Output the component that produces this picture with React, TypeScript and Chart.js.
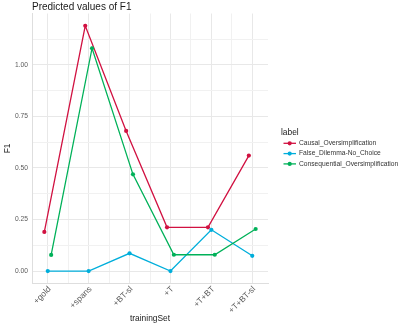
import React, { useEffect, useRef } from "react";
import { Chart, registerables } from "chart.js";

Chart.register(...registerables);

// ---- data ----
const categories = ["+gold", "+spans", "+BT-sl", "+T", "+T+BT", "+T+BT-sl"];
const seriesNames = [
  "Causal_Oversimplification",
  "False_Dilemma-No_Choice",
  "Consequential_Oversimplification",
];
const causalValues = [0.19, 1.19, 0.68, 0.212, 0.212, 0.56];
const falseDilemmaValues = [0.0, 0.0, 0.086, 0.0, 0.2, 0.074];
const consequentialValues = [0.078, 1.081, 0.469, 0.079, 0.079, 0.204];
const yTickValues = [0, 0.125, 0.25, 0.375, 0.5, 0.625, 0.75, 0.875, 1.0, 1.125];
const titleText = "Predicted values of F1";
const xTitle = "trainingSet";
const yTitle = "F1";
const legendTitle = "label";

// ---- style ----
const colors = ["#d11141", "#00aedb", "#00b159"];
const FONT = '"Liberation Sans", Arial, sans-serif';
const DODGE = 0.25 / 3;
const XPAD = 0.385;
const W = 409;
const H = 327;

const allSeries = [causalValues, falseDilemmaValues, consequentialValues];

export default function App() {
  const ref = useRef<HTMLCanvasElement | null>(null);

  useEffect(() => {
    if (!ref.current) return;
    const all = allSeries.flat();
    const dMin = Math.min(...all);
    const dMax = Math.max(...all);
    const pad = (dMax - dMin) * 0.05;

    const datasets = allSeries.map((vals, si) => ({
      label: seriesNames[si],
      data: vals.map((v, i) => ({ x: i + (si - 1) * DODGE, y: v })),
      borderColor: colors[si],
      backgroundColor: colors[si],
      borderWidth: 1.3,
      pointRadius: 2.1,
      pointBorderWidth: 0,
      pointHoverRadius: 2.1,
      tension: 0,
      order: 3 - si,
    }));

    const xGrid: number[] = [];
    for (let v = 0; v <= categories.length - 1 + 1e-9; v += 0.5) xGrid.push(v);

    const extraText = {
      id: "extraText",
      afterDraw(chart: any) {
        const { ctx, chartArea } = chart;
        ctx.save();
        // title
        ctx.fillStyle = "#1a1a1a";
        ctx.font = `10px ${FONT}`;
        ctx.textAlign = "left";
        ctx.textBaseline = "middle";
        ctx.fillText(titleText, chartArea.left, 7);
        // x title
        ctx.font = `8.4px ${FONT}`;
        ctx.textAlign = "center";
        ctx.fillText(xTitle, (chartArea.left + chartArea.right) / 2, 319);
        // y title
        ctx.save();
        ctx.translate(8, (chartArea.top + chartArea.bottom) / 2);
        ctx.rotate(-Math.PI / 2);
        ctx.fillText(yTitle, 0, 0);
        ctx.restore();
        // legend
        ctx.textAlign = "left";
        ctx.font = `8.4px ${FONT}`;
        ctx.fillText(legendTitle, 281, 132.7);
        ctx.font = `6.7px ${FONT}`;
        seriesNames.forEach((name, i) => {
          const y = 143.3 + i * 10.3;
          ctx.strokeStyle = colors[i];
          ctx.lineWidth = 1.3;
          ctx.beginPath();
          ctx.moveTo(283.5, y);
          ctx.lineTo(296, y);
          ctx.stroke();
          ctx.fillStyle = colors[i];
          ctx.beginPath();
          ctx.arc(289.7, y, 2.1, 0, Math.PI * 2);
          ctx.fill();
          ctx.fillStyle = "#333333";
          ctx.fillText(name, 299, y);
        });
        ctx.restore();
      },
    };

    const chart = new Chart(ref.current, {
      type: "line",
      data: { datasets },
      plugins: [extraText],
      options: {
        animation: false,
        responsive: false,
        devicePixelRatio: 1,
        layout: { padding: { left: 0, top: 13.5, right: W - 268, bottom: 0 } },
        plugins: { legend: { display: false }, title: { display: false }, tooltip: { enabled: false } },
        scales: {
          x: {
            type: "linear",
            min: -XPAD,
            max: categories.length - 1 + XPAD,
            afterBuildTicks: (s: any) => {
              s.ticks = xGrid.map((v) => ({ value: v }));
            },
            afterFit: (s: any) => {
              s.height = H - 283.3;
            },
            ticks: {
              autoSkip: false,
              minRotation: 45,
              maxRotation: 45,
              padding: 1,
              labelOffset: 2,
              color: "#5a5a5a",
              font: { family: FONT, size: 8.4 },
              callback: (v: any) => (Number.isInteger(v) ? categories[v] : ""),
            },
            grid: {
              drawTicks: false,
              color: (c: any) => (Number.isInteger(c.tick?.value) ? "#e8e8e8" : "#f1f1f1"),
              lineWidth: 1,
            },
            border: { display: true, color: "#dedede", width: 1 },
          },
          y: {
            type: "linear",
            min: dMin - pad,
            max: dMax + pad,
            afterBuildTicks: (s: any) => {
              s.ticks = yTickValues.map((v) => ({ value: v }));
            },
            afterFit: (s: any) => {
              s.width = 32;
            },
            ticks: {
              padding: 4,
              color: "#5a5a5a",
              font: { family: FONT, size: 6.7 },
              callback: (v: any) => (Math.abs(v * 4 - Math.round(v * 4)) < 1e-9 ? Number(v).toFixed(2) : ""),
            },
            grid: {
              drawTicks: false,
              color: (c: any) => {
                const v = c.tick?.value ?? 0;
                return Math.abs(v * 4 - Math.round(v * 4)) < 1e-9 ? "#e8e8e8" : "#f1f1f1";
              },
              lineWidth: 1,
            },
            border: { display: true, color: "#dedede", width: 1 },
          },
        },
      },
    });
    return () => chart.destroy();
  }, []);

  return (
    <div style={{ position: "fixed", left: 0, top: 0, width: W, height: H, background: "#ffffff" }}>
      <canvas ref={ref} width={W} height={H} style={{ display: "block", width: W, height: H }} />
    </div>
  );
}
